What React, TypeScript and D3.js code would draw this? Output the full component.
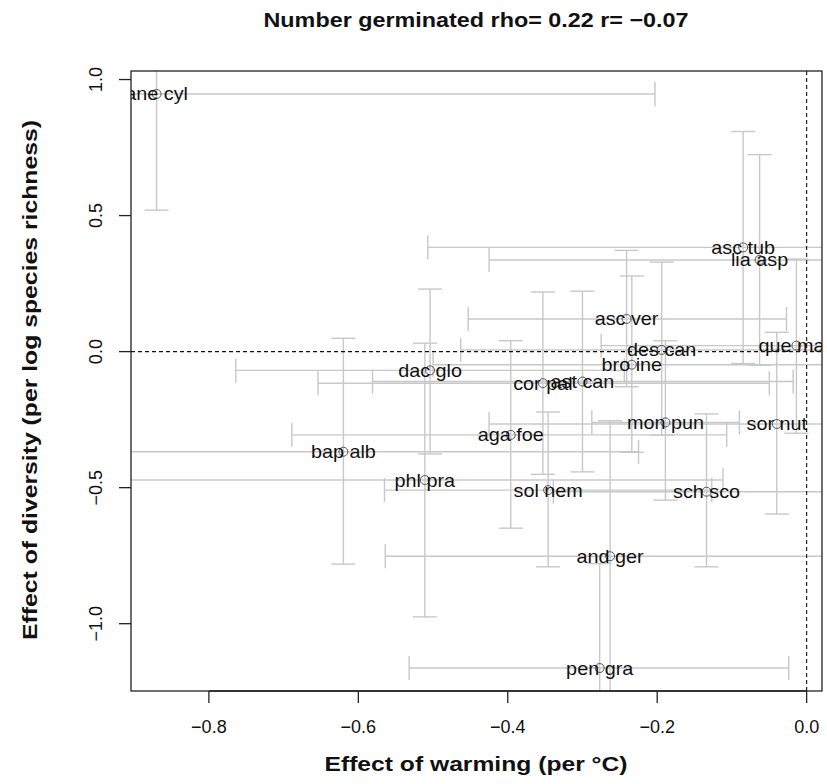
import React from 'react';
import * as d3 from 'd3';

const species = [
  'ane cyl', 'asc tub', 'lia asp', 'asc ver', 'que mac', 'des can', 'bro ine',
  'dac glo', 'cor pal', 'ast can', 'mon pun', 'sor nut', 'aga foe', 'bap alb',
  'phl pra', 'sol nem', 'sch sco', 'and ger', 'pen gra',
];
// effect of warming (x)
const warmEst = [-0.87, -0.085, -0.063, -0.241, -0.0137, -0.194, -0.234, -0.504, -0.353, -0.300, -0.189, -0.040, -0.396, -0.620, -0.511, -0.346, -0.134, -0.263, -0.277];
const warmLo = [-1.54, -0.507, -0.425, -0.453, -0.275, -0.463, -0.50, -0.764, -0.654, -0.581, -0.2875, -0.425, -0.689, -1.015, -0.91, -0.565, -0.339, -0.564, -0.532];
const warmHi = [-0.203, 0.337, 0.299, -0.027, 0.248, 0.075, 0.035, -0.244, -0.050, -0.018, -0.09, 0.345, -0.107, -0.225, -0.112, -0.127, 0.071, 0.038, -0.024];
// effect of diversity (y)
const divEst = [0.947, 0.383, 0.337, 0.120, 0.022, 0.006, -0.048, -0.069, -0.116, -0.110, -0.260, -0.266, -0.306, -0.368, -0.472, -0.509, -0.515, -0.752, -1.163];
const divLo = [0.52, -0.044, -0.05, -0.129, -0.30, -0.307, -0.37, -0.376, -0.451, -0.442, -0.546, -0.597, -0.649, -0.781, -0.975, -0.791, -0.791, -1.25, -1.547];
const divHi = [1.37, 0.809, 0.724, 0.372, 0.34, 0.329, 0.278, 0.23, 0.219, 0.222, 0.04, 0.071, 0.040, 0.049, 0.031, -0.222, -0.229, -0.254, -0.779];

const xTicks = [-0.8, -0.6, -0.4, -0.2, 0.0];
const yTicks = [-1.0, -0.5, 0.0, 0.5, 1.0];
const titleText = 'Number germinated rho= 0.22 r= \u22120.07';
const xLabel = 'Effect of warming (per \u00B0C)';
const yLabel = 'Effect of diversity (per log species richness)';

export default function App() {
  const W = 827, H = 784;
  const L = 131, R = 822, T = 71, B = 691;
  const ext = (arr: number[]): [number, number] => {
    const [a, b] = d3.extent(arr) as [number, number];
    const d = (b - a) * 0.04;
    return [a - d, b + d];
  };
  const x = d3.scaleLinear().domain(ext(warmEst)).range([L, R]);
  const y = d3.scaleLinear().domain(ext(divEst)).range([B, T]);
  const fmt = (v: number) => v.toFixed(1).replace('-', '\u2212');
  const cap = 12;
  const barColor = '#c8c8c8';
  const font = '"Liberation Sans", Arial, Helvetica, sans-serif';

  return (
    <svg width={W} height={H} style={{ position: 'absolute', left: 0, top: 0, background: '#fff' }} fontFamily={font}>
      <defs>
        <clipPath id="plotclip">
          <rect x={L} y={T} width={R - L} height={B - T} />
        </clipPath>
      </defs>
      <rect x={0} y={0} width={W} height={H} fill="#fff" />
      <g clipPath="url(#plotclip)">
        {species.map((s, i) => {
          const yy = y(divEst[i]);
          const xx = x(warmEst[i]);
          const x0 = x(warmLo[i]), x1 = x(warmHi[i]);
          const y0 = y(divLo[i]), y1 = y(divHi[i]);
          return (
            <g key={'bar' + s} stroke={barColor} strokeWidth={1.4} fill="none">
              <line x1={x0} x2={x1} y1={yy} y2={yy} />
              <line x1={x0} x2={x0} y1={yy - cap} y2={yy + cap} />
              <line x1={x1} x2={x1} y1={yy - cap} y2={yy + cap} />
              <line x1={xx} x2={xx} y1={y0} y2={y1} />
              <line x1={xx - cap} x2={xx + cap} y1={y0} y2={y0} />
              <line x1={xx - cap} x2={xx + cap} y1={y1} y2={y1} />
            </g>
          );
        })}
        <line x1={L} x2={R} y1={y(0)} y2={y(0)} stroke="#111" strokeWidth={1.1} strokeDasharray="4,3" />
        <line x1={x(0)} x2={x(0)} y1={T} y2={B} stroke="#111" strokeWidth={1.1} strokeDasharray="4,3" />
        {species.map((s, i) => (
          <circle key={'pt' + s} cx={x(warmEst[i])} cy={y(divEst[i])} r={4.5} fill="none" stroke="#555" strokeWidth={1} />
        ))}
        {species.map((s, i) => (
          <text
            key={'lb' + s}
            transform={`translate(${x(warmEst[i])},${y(divEst[i])}) scale(1.1,1)`}
            textAnchor="middle"
            dy="0.36em"
            fontSize={18}
            fill="#111"
          >
            {s}
          </text>
        ))}
      </g>
      <rect x={L} y={T} width={R - L} height={B - T} fill="none" stroke="#222" strokeWidth={1.3} />
      {/* x axis */}
      <line x1={x(xTicks[0])} x2={x(xTicks[xTicks.length - 1])} y1={B} y2={B} stroke="#222" strokeWidth={1.3} />
      {xTicks.map((t) => (
        <g key={'xt' + t}>
          <line x1={x(t)} x2={x(t)} y1={B} y2={B + 12} stroke="#222" strokeWidth={1.3} />
          <text x={x(t)} y={733} textAnchor="middle" fontSize={18} fill="#111">{fmt(t)}</text>
        </g>
      ))}
      {/* y axis */}
      {yTicks.map((t) => (
        <g key={'yt' + t}>
          <line x1={L - 12} x2={L} y1={y(t)} y2={y(t)} stroke="#222" strokeWidth={1.3} />
          <text transform={`translate(102,${y(t)}) rotate(-90)`} textAnchor="middle" fontSize={18} fill="#111">{fmt(t)}</text>
        </g>
      ))}
      <text x={476} y={27} textAnchor="middle" fontSize={20} fontWeight="bold" fill="#111" textLength={425} lengthAdjust="spacingAndGlyphs">{titleText}</text>
      <text x={476} y={771} textAnchor="middle" fontSize={21} fontWeight="bold" fill="#111" textLength={303} lengthAdjust="spacingAndGlyphs">{xLabel}</text>
      <text transform={`translate(37,380) rotate(-90)`} textAnchor="middle" fontSize={21} fontWeight="bold" fill="#111" textLength={520} lengthAdjust="spacingAndGlyphs">{yLabel}</text>
    </svg>
  );
}
